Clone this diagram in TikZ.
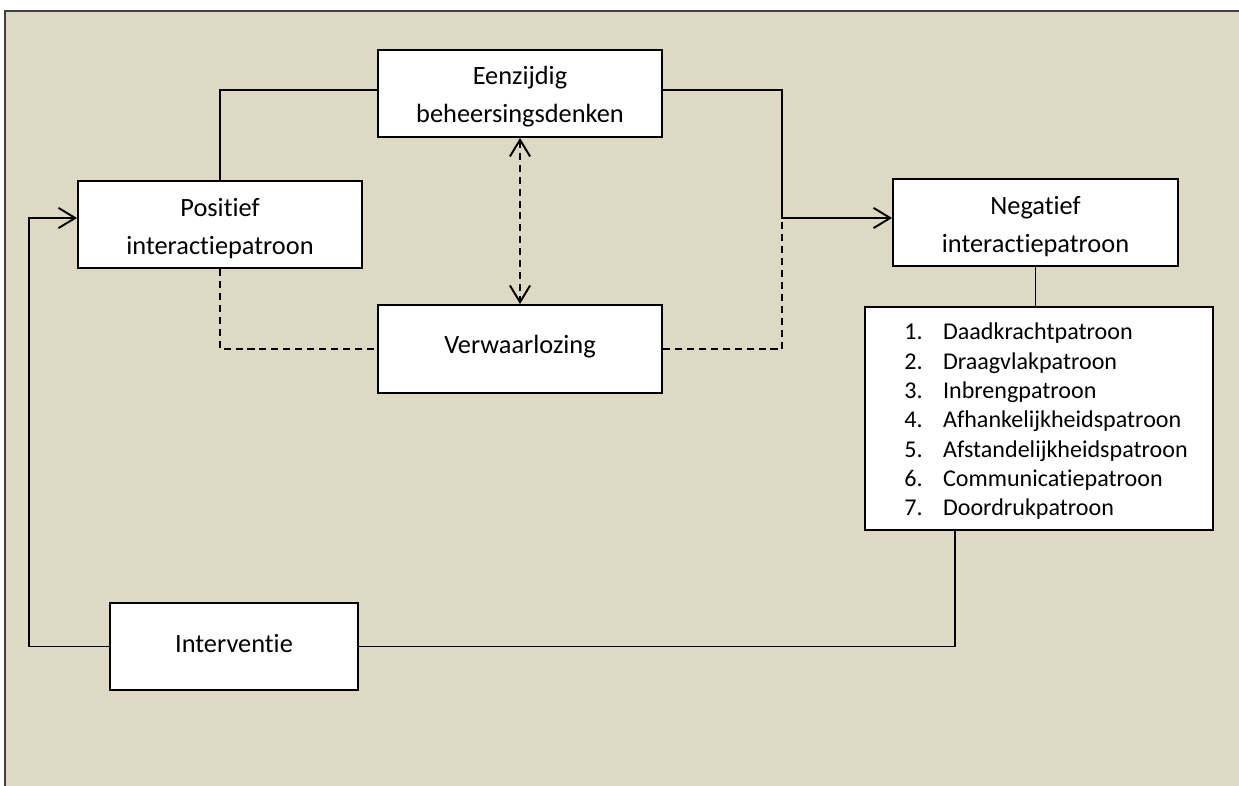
\documentclass[tikz,border=0pt]{standalone}
\usepackage{fontspec}
\setmainfont{Carlito}[Ligatures=NoCommon]
\usetikzlibrary{arrows.meta,calc}
\definecolor{canvas}{RGB}{221,217,195}
\begin{document}
\begin{tikzpicture}[x=0.02cm,y=-0.02cm,
  box/.style={draw=black, line width=1.1pt, fill=white, rectangle, inner sep=0pt},
  lbl/.style={font=\fontsize{15}{18}\selectfont, anchor=base, inner sep=0pt},
  item/.style={font=\fontsize{13.7}{16}\selectfont, anchor=base west, inner sep=0pt},
  wire/.style={line width=1.1pt},
  dashwire/.style={wire, dash pattern=on 4pt off 2.8pt},
  >={Straight Barb[length=9.5pt,width=11.5pt]},
]
\useasboundingbox (0,0) rectangle (1239,786);
% canvas with its left and top border
\fill[canvas] (5,11) rectangle (1239,786);
\draw[line width=0.9pt, black!75] (5,786) -- (5,11) -- (1239,11);

% boxes
\node[box, minimum width=5.68cm, minimum height=1.74cm] (E) at (520,93.5) {};
\node[box, minimum width=5.68cm, minimum height=1.74cm] (P) at (220,224.5) {};
\node[box, minimum width=5.68cm, minimum height=1.76cm] (V) at (520,349) {};
\node[box, minimum width=5.70cm, minimum height=1.74cm] (N) at (1035.5,222.5) {};
\node[box, minimum width=6.96cm, minimum height=4.46cm] (L) at (1039,418.5) {};
\node[box, minimum width=4.96cm, minimum height=1.74cm] (I) at (234,646.5) {};

% box texts
\node[lbl] (E1) at (520,85) {Eenzijdig};
\node[lbl] (E2) at (520,122.7) {beheersingsdenken};
\node[lbl] (P1) at (220,217) {Positief};
\node[lbl] (P2) at (220,254.7) {interactiepatroon};
\node[lbl] (N1) at (1035.5,215) {Negatief};
\node[lbl] (N2) at (1035.5,252.7) {interactiepatroon};
\node[lbl] (V1) at (520,354) {Verwaarlozing};
\node[lbl] (I1) at (234,652.7) {Interventie};

% numbered list of patterns
\foreach \i/\t in {1/Daadkrachtpatroon,2/Draagvlakpatroon,3/Inbrengpatroon,
  4/Afhankelijkheidspatroon,5/Afstandelijkheidspatroon,6/Communicatiepatroon,
  7/Doordrukpatroon}{
  \node[item] (num\i) at (904,{340+29.33*(\i-1)}) {\i.};
  \node[item] (txt\i) at (942.7,{340+29.33*(\i-1)}) {\t};
}

% junctions
\coordinate (J) at (782,218);
\coordinate (K) at (29,218);
\coordinate (Lout) at ($(L.south west)+(91,0)$);

% connectors
\draw[wire] (P.north) |- ($(E.west)+(0,-3.5)$);
\draw[wire,->] ($(E.east)+(0,-3.5)$) -| (J) -- ($(N.west)+(0,-4.5)$);
\draw[dashwire] (P.south) |- (V.west);
\draw[dashwire] (V.east) -| (J);
\draw[dashwire,<->] (E.south) -- (V.north);
\draw[wire] (N.south) -- (N.south |- L.north);
\draw[wire] (Lout) |- (I.east);
\draw[wire,->] (I.west) -| (K) -- ($(P.west)+(0,-6.5)$);
\end{tikzpicture}
\end{document}
